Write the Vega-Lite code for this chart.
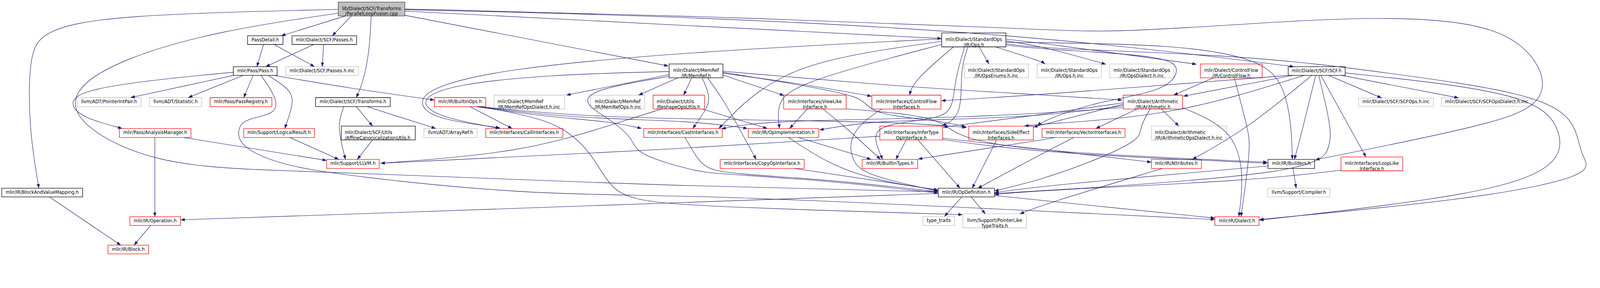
{
  "$schema": "https://vega.github.io/schema/vega-lite/v6.json",
  "width": 4096,
  "height": 655,
  "padding": 0,
  "autosize": {"type": "none"},
  "background": "#ffffff",
  "config": {"view": {"stroke": null}},
  "datasets": {
    "nodes": [
      {"id": "root", "label": "lib/Dialect/SCF/Transforms\n/ParallelLoopFusion.cpp", "kind": "root", "x0": 974, "x1": 1166, "y0": 6, "y1": 46},
      {"id": "PD", "label": "PassDetail.h", "kind": "doc", "x0": 713, "x1": 815, "y0": 103, "y1": 128},
      {"id": "SP", "label": "mlir/Dialect/SCF/Passes.h", "kind": "doc", "x0": 841, "x1": 1027, "y0": 103, "y1": 128},
      {"id": "PP", "label": "mlir/Pass/Pass.h", "kind": "doc", "x0": 672, "x1": 798, "y0": 192, "y1": 217},
      {"id": "PI", "label": "mlir/Dialect/SCF/Passes.h.inc", "kind": "gray", "x0": 823, "x1": 1032, "y0": 192, "y1": 217},
      {"id": "PIP", "label": "llvm/ADT/PointerIntPair.h", "kind": "gray", "x0": 222, "x1": 406, "y0": 281, "y1": 307},
      {"id": "ST", "label": "llvm/ADT/Statistic.h", "kind": "gray", "x0": 430, "x1": 581, "y0": 281, "y1": 307},
      {"id": "PR", "label": "mlir/Pass/PassRegistry.h", "kind": "red", "x0": 605, "x1": 783, "y0": 281, "y1": 307},
      {"id": "TR", "label": "mlir/Dialect/SCF/Transforms.h", "kind": "doc", "x0": 909, "x1": 1124, "y0": 281, "y1": 307},
      {"id": "BO", "label": "mlir/IR/BuiltinOps.h", "kind": "red", "x0": 1251, "x1": 1399, "y0": 281, "y1": 307},
      {"id": "MOD", "label": "mlir/Dialect/MemRef\n/IR/MemRefOpsDialect.h.inc", "kind": "gray", "x0": 1423, "x1": 1626, "y0": 274, "y1": 314},
      {"id": "MO", "label": "mlir/Dialect/MemRef\n/IR/MemRefOps.h.inc", "kind": "gray", "x0": 1701, "x1": 1857, "y0": 274, "y1": 314},
      {"id": "RU", "label": "mlir/Dialect/Utils\n/ReshapeOpsUtils.h", "kind": "red", "x0": 1881, "x1": 2029, "y0": 274, "y1": 314},
      {"id": "MR", "label": "mlir/Dialect/MemRef\n/IR/MemRef.h", "kind": "doc", "x0": 1927, "x1": 2082, "y0": 184, "y1": 224},
      {"id": "OPS", "label": "mlir/Dialect/StandardOps\n/IR/Ops.h", "kind": "doc", "x0": 2712, "x1": 2897, "y0": 95, "y1": 135},
      {"id": "OE", "label": "mlir/Dialect/StandardOps\n/IR/OpsEnums.h.inc", "kind": "gray", "x0": 2777, "x1": 2962, "y0": 184, "y1": 224},
      {"id": "OI", "label": "mlir/Dialect/StandardOps\n/IR/Ops.h.inc", "kind": "gray", "x0": 2987, "x1": 3172, "y0": 184, "y1": 224},
      {"id": "OD", "label": "mlir/Dialect/StandardOps\n/IR/OpsDialect.h.inc", "kind": "gray", "x0": 3196, "x1": 3381, "y0": 184, "y1": 224},
      {"id": "CF", "label": "mlir/Dialect/ControlFlow\n/IR/ControlFlow.h", "kind": "red", "x0": 3457, "x1": 3635, "y0": 184, "y1": 224},
      {"id": "SCF", "label": "mlir/Dialect/SCF/SCF.h", "kind": "doc", "x0": 3710, "x1": 3874, "y0": 192, "y1": 217},
      {"id": "VL", "label": "mlir/Interfaces/ViewLike\nInterface.h", "kind": "red", "x0": 2257, "x1": 2437, "y0": 274, "y1": 314},
      {"id": "CFI", "label": "mlir/Interfaces/ControlFlow\nInterfaces.h", "kind": "red", "x0": 2511, "x1": 2710, "y0": 274, "y1": 314},
      {"id": "AR", "label": "mlir/Dialect/Arithmetic\n/IR/Arithmetic.h", "kind": "red", "x0": 3235, "x1": 3406, "y0": 274, "y1": 314},
      {"id": "SO", "label": "mlir/Dialect/SCF/SCFOps.h.inc", "kind": "gray", "x0": 3913, "x1": 4128, "y0": 282, "y1": 306},
      {"id": "SOD", "label": "mlir/Dialect/SCF/SCFOpsDialect.h.inc", "kind": "gray", "x0": 4151, "x1": 4412, "y0": 282, "y1": 306},
      {"id": "AM", "label": "mlir/Pass/AnalysisManager.h", "kind": "red", "x0": 344, "x1": 550, "y0": 370, "y1": 396},
      {"id": "LR", "label": "mlir/Support/LogicalResult.h", "kind": "red", "x0": 702, "x1": 906, "y0": 370, "y1": 396},
      {"id": "AC", "label": "mlir/Dialect/SCF/Utils\n/AffineCanonicalizationUtils.h", "kind": "doc", "x0": 983, "x1": 1196, "y0": 363, "y1": 403},
      {"id": "AREF", "label": "llvm/ADT/ArrayRef.h", "kind": "gray", "x0": 1221, "x1": 1374, "y0": 370, "y1": 396},
      {"id": "CI", "label": "mlir/Interfaces/CallInterfaces.h", "kind": "red", "x0": 1399, "x1": 1621, "y0": 370, "y1": 396},
      {"id": "CA", "label": "mlir/Interfaces/CastInterfaces.h", "kind": "red", "x0": 1854, "x1": 2080, "y0": 370, "y1": 396},
      {"id": "OIM", "label": "mlir/IR/OpImplementation.h", "kind": "red", "x0": 2155, "x1": 2358, "y0": 370, "y1": 396},
      {"id": "IT", "label": "mlir/Interfaces/InferType\nOpInterface.h", "kind": "red", "x0": 2534, "x1": 2715, "y0": 363, "y1": 403},
      {"id": "SE", "label": "mlir/Interfaces/SideEffect\nInterfaces.h", "kind": "red", "x0": 2790, "x1": 2976, "y0": 363, "y1": 403},
      {"id": "VI", "label": "mlir/Interfaces/VectorInterfaces.h", "kind": "red", "x0": 3001, "x1": 3240, "y0": 370, "y1": 396},
      {"id": "AOD", "label": "mlir/Dialect/Arithmetic\n/IR/ArithmeticOpsDialect.h.inc", "kind": "gray", "x0": 3316, "x1": 3533, "y0": 363, "y1": 403},
      {"id": "LL", "label": "mlir/Support/LLVM.h", "kind": "red", "x0": 941, "x1": 1092, "y0": 459, "y1": 485},
      {"id": "CO", "label": "mlir/Interfaces/CopyOpInterface.h", "kind": "red", "x0": 2074, "x1": 2316, "y0": 459, "y1": 485},
      {"id": "BT", "label": "mlir/IR/BuiltinTypes.h", "kind": "red", "x0": 2483, "x1": 2643, "y0": 459, "y1": 485},
      {"id": "AT", "label": "mlir/IR/Attributes.h", "kind": "red", "x0": 3316, "x1": 3460, "y0": 459, "y1": 485},
      {"id": "BU", "label": "mlir/IR/Builders.h", "kind": "doc", "x0": 3652, "x1": 3786, "y0": 459, "y1": 485},
      {"id": "LLI", "label": "mlir/Interfaces/LoopLike\nInterface.h", "kind": "red", "x0": 3862, "x1": 4040, "y0": 452, "y1": 492},
      {"id": "BVM", "label": "mlir/IR/BlockAndValueMapping.h", "kind": "doc", "x0": 5, "x1": 238, "y0": 542, "y1": 567},
      {"id": "OPD", "label": "mlir/IR/OpDefinition.h", "kind": "doc", "x0": 2702, "x1": 2864, "y0": 542, "y1": 567},
      {"id": "CMP", "label": "llvm/Support/Compiler.h", "kind": "gray", "x0": 3651, "x1": 3830, "y0": 542, "y1": 567},
      {"id": "OP", "label": "mlir/IR/Operation.h", "kind": "red", "x0": 374, "x1": 520, "y0": 624, "y1": 649},
      {"id": "TT", "label": "type_traits", "kind": "gray", "x0": 2658, "x1": 2749, "y0": 623, "y1": 649},
      {"id": "PLT", "label": "llvm/Support/PointerLike\nTypeTraits.h", "kind": "gray", "x0": 2773, "x1": 2956, "y0": 616, "y1": 656},
      {"id": "DI", "label": "mlir/IR/Dialect.h", "kind": "red", "x0": 3499, "x1": 3626, "y0": 624, "y1": 649},
      {"id": "BL", "label": "mlir/IR/Block.h", "kind": "red", "x0": 311, "x1": 428, "y0": 706, "y1": 731}
    ],
    "edges": [
      {"e": 1, "i": 0, "x": 995, "y": 46}, {"e": 1, "i": 1, "x": 810, "y": 103},
      {"e": 2, "i": 0, "x": 1012, "y": 46}, {"e": 2, "i": 1, "x": 957, "y": 103},
      {"e": 3, "i": 0, "x": 1069, "y": 46}, {"e": 3, "i": 1, "x": 1064, "y": 150}, {"e": 3, "i": 2, "x": 1045, "y": 240}, {"e": 3, "i": 3, "x": 1026, "y": 281},
      {"e": 4, "i": 0, "x": 1166, "y": 44}, {"e": 4, "i": 1, "x": 1925, "y": 190},
      {"e": 5, "i": 0, "x": 1166, "y": 32}, {"e": 5, "i": 1, "x": 2712, "y": 111},
      {"e": 6, "i": 0, "x": 1166, "y": 28}, {"e": 6, "i": 1, "x": 2000, "y": 47}, {"e": 6, "i": 2, "x": 3000, "y": 102}, {"e": 6, "i": 3, "x": 3727, "y": 192},
      {"e": 7, "i": 0, "x": 1166, "y": 26}, {"e": 7, "i": 1, "x": 2000, "y": 45}, {"e": 7, "i": 2, "x": 3000, "y": 84}, {"e": 7, "i": 3, "x": 3191, "y": 95}, {"e": 7, "i": 4, "x": 3608, "y": 67}, {"e": 7, "i": 5, "x": 4016, "y": 45}, {"e": 7, "i": 6, "x": 4329, "y": 73}, {"e": 7, "i": 7, "x": 4448, "y": 193}, {"e": 7, "i": 8, "x": 4448, "y": 300}, {"e": 7, "i": 9, "x": 4290, "y": 360}, {"e": 7, "i": 10, "x": 3788, "y": 460},
      {"e": 8, "i": 0, "x": 974, "y": 27}, {"e": 8, "i": 1, "x": 319, "y": 43}, {"e": 8, "i": 2, "x": 128, "y": 87}, {"e": 8, "i": 3, "x": 83, "y": 150}, {"e": 8, "i": 4, "x": 83, "y": 370}, {"e": 8, "i": 5, "x": 112, "y": 542},
      {"e": 9, "i": 0, "x": 974, "y": 38}, {"e": 9, "i": 1, "x": 638, "y": 87}, {"e": 9, "i": 2, "x": 351, "y": 167}, {"e": 9, "i": 3, "x": 191, "y": 267}, {"e": 9, "i": 4, "x": 236, "y": 370}, {"e": 9, "i": 5, "x": 446, "y": 470}, {"e": 9, "i": 6, "x": 733, "y": 490}, {"e": 9, "i": 7, "x": 1000, "y": 497}, {"e": 9, "i": 8, "x": 2000, "y": 538}, {"e": 9, "i": 9, "x": 2702, "y": 552},
      {"e": 10, "i": 0, "x": 759, "y": 128}, {"e": 10, "i": 1, "x": 740, "y": 192},
      {"e": 11, "i": 0, "x": 789, "y": 128}, {"e": 11, "i": 1, "x": 906, "y": 192},
      {"e": 12, "i": 0, "x": 904, "y": 128}, {"e": 12, "i": 1, "x": 765, "y": 192},
      {"e": 13, "i": 0, "x": 932, "y": 128}, {"e": 13, "i": 1, "x": 928, "y": 192},
      {"e": 14, "i": 0, "x": 672, "y": 208}, {"e": 14, "i": 1, "x": 420, "y": 232}, {"e": 14, "i": 2, "x": 230, "y": 262}, {"e": 14, "i": 3, "x": 198, "y": 300}, {"e": 14, "i": 4, "x": 240, "y": 340}, {"e": 14, "i": 5, "x": 352, "y": 370},
      {"e": 15, "i": 0, "x": 673, "y": 217}, {"e": 15, "i": 1, "x": 376, "y": 281},
      {"e": 16, "i": 0, "x": 701, "y": 217}, {"e": 16, "i": 1, "x": 542, "y": 281},
      {"e": 17, "i": 0, "x": 729, "y": 217}, {"e": 17, "i": 1, "x": 702, "y": 281},
      {"e": 18, "i": 0, "x": 752, "y": 217}, {"e": 18, "i": 1, "x": 802, "y": 290}, {"e": 18, "i": 2, "x": 791, "y": 330}, {"e": 18, "i": 3, "x": 701, "y": 343}, {"e": 18, "i": 4, "x": 684, "y": 375}, {"e": 18, "i": 5, "x": 690, "y": 420}, {"e": 18, "i": 6, "x": 797, "y": 473}, {"e": 18, "i": 7, "x": 1000, "y": 507}, {"e": 18, "i": 8, "x": 1548, "y": 563}, {"e": 18, "i": 9, "x": 2000, "y": 560}, {"e": 18, "i": 10, "x": 3000, "y": 608}, {"e": 18, "i": 11, "x": 3499, "y": 632},
      {"e": 19, "i": 0, "x": 772, "y": 217}, {"e": 19, "i": 1, "x": 840, "y": 260}, {"e": 19, "i": 2, "x": 845, "y": 300}, {"e": 19, "i": 3, "x": 820, "y": 370},
      {"e": 20, "i": 0, "x": 789, "y": 217}, {"e": 20, "i": 1, "x": 1000, "y": 253}, {"e": 20, "i": 2, "x": 1251, "y": 288},
      {"e": 21, "i": 0, "x": 1026, "y": 307}, {"e": 21, "i": 1, "x": 1073, "y": 363},
      {"e": 22, "i": 0, "x": 1057, "y": 307}, {"e": 22, "i": 1, "x": 1255, "y": 370},
      {"e": 23, "i": 0, "x": 990, "y": 307}, {"e": 23, "i": 1, "x": 972, "y": 360}, {"e": 23, "i": 2, "x": 985, "y": 420}, {"e": 23, "i": 3, "x": 995, "y": 459},
      {"e": 24, "i": 0, "x": 835, "y": 396}, {"e": 24, "i": 1, "x": 976, "y": 459},
      {"e": 25, "i": 0, "x": 529, "y": 396}, {"e": 25, "i": 1, "x": 941, "y": 462},
      {"e": 26, "i": 0, "x": 446, "y": 396}, {"e": 26, "i": 1, "x": 446, "y": 624},
      {"e": 27, "i": 0, "x": 1073, "y": 403}, {"e": 27, "i": 1, "x": 1029, "y": 459},
      {"e": 28, "i": 0, "x": 434, "y": 649}, {"e": 28, "i": 1, "x": 386, "y": 706},
      {"e": 29, "i": 0, "x": 142, "y": 567}, {"e": 29, "i": 1, "x": 348, "y": 706},
      {"e": 30, "i": 0, "x": 2702, "y": 557}, {"e": 30, "i": 1, "x": 2000, "y": 582}, {"e": 30, "i": 2, "x": 1000, "y": 617}, {"e": 30, "i": 3, "x": 520, "y": 633},
      {"e": 31, "i": 0, "x": 1353, "y": 307}, {"e": 31, "i": 1, "x": 1475, "y": 370},
      {"e": 32, "i": 0, "x": 1372, "y": 307}, {"e": 32, "i": 1, "x": 1560, "y": 335}, {"e": 32, "i": 2, "x": 1760, "y": 350}, {"e": 32, "i": 3, "x": 1848, "y": 370},
      {"e": 33, "i": 0, "x": 1378, "y": 307}, {"e": 33, "i": 1, "x": 1700, "y": 338}, {"e": 33, "i": 2, "x": 2200, "y": 346}, {"e": 33, "i": 3, "x": 2600, "y": 352}, {"e": 33, "i": 4, "x": 2784, "y": 367},
      {"e": 34, "i": 0, "x": 1385, "y": 307}, {"e": 34, "i": 1, "x": 1560, "y": 340}, {"e": 34, "i": 2, "x": 1640, "y": 380}, {"e": 34, "i": 3, "x": 1702, "y": 440}, {"e": 34, "i": 4, "x": 1753, "y": 533}, {"e": 34, "i": 5, "x": 1810, "y": 575}, {"e": 34, "i": 6, "x": 2000, "y": 595}, {"e": 34, "i": 7, "x": 2772, "y": 618},
      {"e": 35, "i": 0, "x": 1375, "y": 307}, {"e": 35, "i": 1, "x": 1640, "y": 340}, {"e": 35, "i": 2, "x": 2000, "y": 348}, {"e": 35, "i": 3, "x": 2153, "y": 370},
      {"e": 36, "i": 0, "x": 1927, "y": 215}, {"e": 36, "i": 1, "x": 1631, "y": 274},
      {"e": 37, "i": 0, "x": 1953, "y": 224}, {"e": 37, "i": 1, "x": 1839, "y": 274},
      {"e": 38, "i": 0, "x": 1992, "y": 224}, {"e": 38, "i": 1, "x": 1969, "y": 274},
      {"e": 39, "i": 0, "x": 1927, "y": 206}, {"e": 39, "i": 1, "x": 1574, "y": 215}, {"e": 39, "i": 2, "x": 1300, "y": 245}, {"e": 39, "i": 3, "x": 1222, "y": 280}, {"e": 39, "i": 4, "x": 1225, "y": 310}, {"e": 39, "i": 5, "x": 1280, "y": 340}, {"e": 39, "i": 6, "x": 1440, "y": 370},
      {"e": 40, "i": 0, "x": 2712, "y": 112}, {"e": 40, "i": 1, "x": 2000, "y": 148}, {"e": 40, "i": 2, "x": 1446, "y": 198}, {"e": 40, "i": 3, "x": 1250, "y": 250}, {"e": 40, "i": 4, "x": 1212, "y": 285}, {"e": 40, "i": 5, "x": 1218, "y": 315}, {"e": 40, "i": 6, "x": 1270, "y": 345}, {"e": 40, "i": 7, "x": 1440, "y": 368},
      {"e": 41, "i": 0, "x": 2022, "y": 224}, {"e": 41, "i": 1, "x": 2051, "y": 287}, {"e": 41, "i": 2, "x": 2020, "y": 335}, {"e": 41, "i": 3, "x": 1995, "y": 370},
      {"e": 42, "i": 0, "x": 1927, "y": 220}, {"e": 42, "i": 1, "x": 1700, "y": 258}, {"e": 42, "i": 2, "x": 1680, "y": 300}, {"e": 42, "i": 3, "x": 1760, "y": 345}, {"e": 42, "i": 4, "x": 1825, "y": 400}, {"e": 42, "i": 5, "x": 1829, "y": 443}, {"e": 42, "i": 6, "x": 2000, "y": 493}, {"e": 42, "i": 7, "x": 2064, "y": 500}, {"e": 42, "i": 8, "x": 2383, "y": 520}, {"e": 42, "i": 9, "x": 2702, "y": 556},
      {"e": 43, "i": 0, "x": 2038, "y": 224}, {"e": 43, "i": 1, "x": 2085, "y": 290}, {"e": 43, "i": 2, "x": 2128, "y": 368}, {"e": 43, "i": 3, "x": 2178, "y": 459},
      {"e": 44, "i": 0, "x": 2082, "y": 216}, {"e": 44, "i": 1, "x": 2258, "y": 275},
      {"e": 45, "i": 0, "x": 2082, "y": 211}, {"e": 45, "i": 1, "x": 2300, "y": 240}, {"e": 45, "i": 2, "x": 2510, "y": 277},
      {"e": 46, "i": 0, "x": 2082, "y": 208}, {"e": 46, "i": 1, "x": 2446, "y": 268}, {"e": 46, "i": 2, "x": 2491, "y": 293}, {"e": 46, "i": 3, "x": 2520, "y": 330}, {"e": 46, "i": 4, "x": 2701, "y": 347}, {"e": 46, "i": 5, "x": 2782, "y": 365},
      {"e": 47, "i": 0, "x": 2082, "y": 205}, {"e": 47, "i": 1, "x": 2600, "y": 250}, {"e": 47, "i": 2, "x": 3000, "y": 273}, {"e": 47, "i": 3, "x": 3232, "y": 288},
      {"e": 48, "i": 0, "x": 2022, "y": 314}, {"e": 48, "i": 1, "x": 2210, "y": 370},
      {"e": 49, "i": 0, "x": 1905, "y": 314}, {"e": 49, "i": 1, "x": 1760, "y": 360}, {"e": 49, "i": 2, "x": 1500, "y": 440}, {"e": 49, "i": 3, "x": 1096, "y": 470},
      {"e": 50, "i": 0, "x": 2712, "y": 119}, {"e": 50, "i": 1, "x": 2332, "y": 173}, {"e": 50, "i": 2, "x": 2172, "y": 267}, {"e": 50, "i": 3, "x": 2100, "y": 340}, {"e": 50, "i": 4, "x": 2070, "y": 370},
      {"e": 51, "i": 0, "x": 2712, "y": 128}, {"e": 51, "i": 1, "x": 2287, "y": 240}, {"e": 51, "i": 2, "x": 2236, "y": 300}, {"e": 51, "i": 3, "x": 2245, "y": 370},
      {"e": 52, "i": 0, "x": 2746, "y": 135}, {"e": 52, "i": 1, "x": 2631, "y": 233}, {"e": 52, "i": 2, "x": 2619, "y": 274},
      {"e": 53, "i": 0, "x": 2778, "y": 135}, {"e": 53, "i": 1, "x": 2747, "y": 240}, {"e": 53, "i": 2, "x": 2745, "y": 330}, {"e": 53, "i": 3, "x": 2660, "y": 345}, {"e": 53, "i": 4, "x": 2540, "y": 360}, {"e": 53, "i": 5, "x": 2513, "y": 393}, {"e": 53, "i": 6, "x": 2542, "y": 459},
      {"e": 54, "i": 0, "x": 2788, "y": 135}, {"e": 54, "i": 1, "x": 2765, "y": 200}, {"e": 54, "i": 2, "x": 2772, "y": 333}, {"e": 54, "i": 3, "x": 2713, "y": 363},
      {"e": 55, "i": 0, "x": 2820, "y": 135}, {"e": 55, "i": 1, "x": 2848, "y": 184},
      {"e": 56, "i": 0, "x": 2867, "y": 135}, {"e": 56, "i": 1, "x": 3000, "y": 177}, {"e": 56, "i": 2, "x": 3010, "y": 184},
      {"e": 57, "i": 0, "x": 2897, "y": 113}, {"e": 57, "i": 1, "x": 3000, "y": 124}, {"e": 57, "i": 2, "x": 3446, "y": 185},
      {"e": 58, "i": 0, "x": 2897, "y": 118}, {"e": 58, "i": 1, "x": 3000, "y": 133}, {"e": 58, "i": 2, "x": 3185, "y": 185},
      {"e": 59, "i": 0, "x": 2897, "y": 126}, {"e": 59, "i": 1, "x": 3000, "y": 140}, {"e": 59, "i": 2, "x": 3608, "y": 160}, {"e": 59, "i": 3, "x": 4000, "y": 210}, {"e": 59, "i": 4, "x": 4405, "y": 267}, {"e": 59, "i": 5, "x": 4540, "y": 340}, {"e": 59, "i": 6, "x": 4549, "y": 450}, {"e": 59, "i": 7, "x": 4600, "y": 500}, {"e": 59, "i": 8, "x": 4284, "y": 570}, {"e": 59, "i": 9, "x": 3627, "y": 632},
      {"e": 60, "i": 0, "x": 2897, "y": 130}, {"e": 60, "i": 1, "x": 3000, "y": 142}, {"e": 60, "i": 2, "x": 3363, "y": 160}, {"e": 60, "i": 3, "x": 3402, "y": 200}, {"e": 60, "i": 4, "x": 3357, "y": 263}, {"e": 60, "i": 5, "x": 3153, "y": 293}, {"e": 60, "i": 6, "x": 3000, "y": 350}, {"e": 60, "i": 7, "x": 2988, "y": 363},
      {"e": 61, "i": 0, "x": 2897, "y": 122}, {"e": 61, "i": 1, "x": 3400, "y": 127}, {"e": 61, "i": 2, "x": 3638, "y": 173}, {"e": 61, "i": 3, "x": 3701, "y": 250}, {"e": 61, "i": 4, "x": 3720, "y": 370}, {"e": 61, "i": 5, "x": 3722, "y": 459},
      {"e": 62, "i": 0, "x": 2539, "y": 314}, {"e": 62, "i": 1, "x": 2485, "y": 350}, {"e": 62, "i": 2, "x": 2446, "y": 400}, {"e": 62, "i": 3, "x": 2453, "y": 460}, {"e": 62, "i": 4, "x": 2485, "y": 500}, {"e": 62, "i": 5, "x": 2638, "y": 537}, {"e": 62, "i": 6, "x": 2702, "y": 550},
      {"e": 63, "i": 0, "x": 2325, "y": 314}, {"e": 63, "i": 1, "x": 2274, "y": 370},
      {"e": 64, "i": 0, "x": 2370, "y": 314}, {"e": 64, "i": 1, "x": 2440, "y": 370}, {"e": 64, "i": 2, "x": 2536, "y": 459},
      {"e": 65, "i": 0, "x": 2437, "y": 313}, {"e": 65, "i": 1, "x": 2638, "y": 330}, {"e": 65, "i": 2, "x": 2720, "y": 353}, {"e": 65, "i": 3, "x": 2765, "y": 400}, {"e": 65, "i": 4, "x": 3000, "y": 438}, {"e": 65, "i": 5, "x": 3650, "y": 467},
      {"e": 66, "i": 0, "x": 2271, "y": 396}, {"e": 66, "i": 1, "x": 2383, "y": 470}, {"e": 66, "i": 2, "x": 2510, "y": 517}, {"e": 66, "i": 3, "x": 2702, "y": 548},
      {"e": 67, "i": 0, "x": 2300, "y": 396}, {"e": 67, "i": 1, "x": 2509, "y": 459},
      {"e": 68, "i": 0, "x": 2287, "y": 485}, {"e": 68, "i": 1, "x": 2702, "y": 547},
      {"e": 69, "i": 0, "x": 2610, "y": 403}, {"e": 69, "i": 1, "x": 2580, "y": 459},
      {"e": 70, "i": 0, "x": 2644, "y": 403}, {"e": 70, "i": 1, "x": 2765, "y": 542},
      {"e": 71, "i": 0, "x": 2534, "y": 392}, {"e": 71, "i": 1, "x": 2000, "y": 427}, {"e": 71, "i": 2, "x": 1096, "y": 470},
      {"e": 72, "i": 0, "x": 2715, "y": 398}, {"e": 72, "i": 1, "x": 3000, "y": 430}, {"e": 72, "i": 2, "x": 3316, "y": 467},
      {"e": 73, "i": 0, "x": 2715, "y": 402}, {"e": 73, "i": 1, "x": 3000, "y": 441}, {"e": 73, "i": 2, "x": 3650, "y": 470},
      {"e": 74, "i": 0, "x": 2870, "y": 403}, {"e": 74, "i": 1, "x": 2800, "y": 542},
      {"e": 75, "i": 0, "x": 3092, "y": 396}, {"e": 75, "i": 1, "x": 3000, "y": 443}, {"e": 75, "i": 2, "x": 2816, "y": 542},
      {"e": 76, "i": 0, "x": 3038, "y": 396}, {"e": 76, "i": 1, "x": 3000, "y": 403}, {"e": 76, "i": 2, "x": 2644, "y": 458},
      {"e": 77, "i": 0, "x": 3275, "y": 314}, {"e": 77, "i": 1, "x": 3156, "y": 370},
      {"e": 78, "i": 0, "x": 3345, "y": 314}, {"e": 78, "i": 1, "x": 3395, "y": 363},
      {"e": 79, "i": 0, "x": 3406, "y": 310}, {"e": 79, "i": 1, "x": 3548, "y": 370}, {"e": 79, "i": 2, "x": 3584, "y": 493}, {"e": 79, "i": 3, "x": 3568, "y": 624},
      {"e": 80, "i": 0, "x": 3235, "y": 296}, {"e": 80, "i": 1, "x": 3000, "y": 330}, {"e": 80, "i": 2, "x": 2716, "y": 366},
      {"e": 81, "i": 0, "x": 3235, "y": 300}, {"e": 81, "i": 1, "x": 2976, "y": 366},
      {"e": 82, "i": 0, "x": 3235, "y": 305}, {"e": 82, "i": 1, "x": 3000, "y": 335}, {"e": 82, "i": 2, "x": 2700, "y": 345}, {"e": 82, "i": 3, "x": 2500, "y": 350}, {"e": 82, "i": 4, "x": 2360, "y": 374},
      {"e": 83, "i": 0, "x": 3235, "y": 310}, {"e": 83, "i": 1, "x": 2800, "y": 340}, {"e": 83, "i": 2, "x": 2200, "y": 347}, {"e": 83, "i": 3, "x": 2078, "y": 371},
      {"e": 85, "i": 0, "x": 3312, "y": 314}, {"e": 85, "i": 1, "x": 3281, "y": 370}, {"e": 85, "i": 2, "x": 3287, "y": 400}, {"e": 85, "i": 3, "x": 3160, "y": 460}, {"e": 85, "i": 4, "x": 3000, "y": 517}, {"e": 85, "i": 5, "x": 2864, "y": 550},
      {"e": 86, "i": 0, "x": 3495, "y": 224}, {"e": 86, "i": 1, "x": 3380, "y": 274},
      {"e": 87, "i": 0, "x": 3555, "y": 224}, {"e": 87, "i": 1, "x": 3593, "y": 370}, {"e": 87, "i": 2, "x": 3603, "y": 420}, {"e": 87, "i": 3, "x": 3574, "y": 624},
      {"e": 88, "i": 0, "x": 3712, "y": 217}, {"e": 88, "i": 1, "x": 3000, "y": 273}, {"e": 88, "i": 2, "x": 2711, "y": 290},
      {"e": 89, "i": 0, "x": 3724, "y": 217}, {"e": 89, "i": 1, "x": 3408, "y": 277},
      {"e": 90, "i": 0, "x": 3756, "y": 217}, {"e": 90, "i": 1, "x": 3383, "y": 333}, {"e": 90, "i": 2, "x": 3000, "y": 357}, {"e": 90, "i": 3, "x": 2950, "y": 363},
      {"e": 91, "i": 0, "x": 3778, "y": 217}, {"e": 91, "i": 1, "x": 3593, "y": 370}, {"e": 91, "i": 2, "x": 3434, "y": 459},
      {"e": 92, "i": 0, "x": 3789, "y": 217}, {"e": 92, "i": 1, "x": 3752, "y": 370}, {"e": 92, "i": 2, "x": 3728, "y": 459},
      {"e": 93, "i": 0, "x": 3798, "y": 217}, {"e": 93, "i": 1, "x": 3835, "y": 370}, {"e": 93, "i": 2, "x": 3830, "y": 420}, {"e": 93, "i": 3, "x": 3797, "y": 497}, {"e": 93, "i": 4, "x": 3000, "y": 550}, {"e": 93, "i": 5, "x": 2864, "y": 557},
      {"e": 94, "i": 0, "x": 3804, "y": 217}, {"e": 94, "i": 1, "x": 3934, "y": 452},
      {"e": 95, "i": 0, "x": 3826, "y": 217}, {"e": 95, "i": 1, "x": 3979, "y": 282},
      {"e": 96, "i": 0, "x": 3864, "y": 217}, {"e": 96, "i": 1, "x": 4201, "y": 282},
      {"e": 97, "i": 0, "x": 3874, "y": 210}, {"e": 97, "i": 1, "x": 4411, "y": 267}, {"e": 97, "i": 2, "x": 4498, "y": 370}, {"e": 97, "i": 3, "x": 4498, "y": 477}, {"e": 97, "i": 4, "x": 4278, "y": 560}, {"e": 97, "i": 5, "x": 3627, "y": 634},
      {"e": 98, "i": 0, "x": 3862, "y": 490}, {"e": 98, "i": 1, "x": 3608, "y": 520}, {"e": 98, "i": 2, "x": 3000, "y": 548}, {"e": 98, "i": 3, "x": 2864, "y": 560},
      {"e": 99, "i": 0, "x": 3652, "y": 478}, {"e": 99, "i": 1, "x": 3000, "y": 535}, {"e": 99, "i": 2, "x": 2864, "y": 555},
      {"e": 100, "i": 0, "x": 3724, "y": 485}, {"e": 100, "i": 1, "x": 3733, "y": 542},
      {"e": 101, "i": 0, "x": 3348, "y": 485}, {"e": 101, "i": 1, "x": 3000, "y": 590}, {"e": 101, "i": 2, "x": 2937, "y": 616},
      {"e": 102, "i": 0, "x": 2770, "y": 567}, {"e": 102, "i": 1, "x": 2720, "y": 623},
      {"e": 103, "i": 0, "x": 2797, "y": 567}, {"e": 103, "i": 1, "x": 2838, "y": 616},
      {"e": 104, "i": 0, "x": 2864, "y": 563}, {"e": 104, "i": 1, "x": 3000, "y": 577}, {"e": 104, "i": 2, "x": 3499, "y": 628},
      {"e": 105, "i": 0, "x": 1973, "y": 396}, {"e": 105, "i": 1, "x": 2000, "y": 443}, {"e": 105, "i": 2, "x": 2030, "y": 485}, {"e": 105, "i": 3, "x": 2100, "y": 500}, {"e": 105, "i": 4, "x": 2383, "y": 517}, {"e": 105, "i": 5, "x": 2702, "y": 552}
    ]
  },
  "layer": [
    {
      "data": {"name": "nodes"},
      "mark": {"type": "rect", "strokeWidth": 1.3},
      "encoding": {
        "x": {"field": "x0", "type": "quantitative", "scale": {"domain": [0, 4608], "nice": false, "zero": false}, "axis": null},
        "x2": {"field": "x1"},
        "y": {"field": "y0", "type": "quantitative", "scale": {"domain": [0, 737], "nice": false, "zero": false, "reverse": true}, "axis": null},
        "y2": {"field": "y1"},
        "fill": {"field": "kind", "type": "nominal", "scale": {"domain": ["root", "doc", "red", "gray"], "range": ["#bfbfbf", "#ffffff", "#ffffff", "#ffffff"]}, "legend": null},
        "stroke": {"field": "kind", "type": "nominal", "scale": {"domain": ["root", "doc", "red", "gray"], "range": ["#404040", "#000000", "#ff0000", "#bfbfbf"]}, "legend": null}
      }
    },
    {
      "data": {"name": "edges"},
      "mark": {"type": "line", "interpolate": "basis", "color": "#191970", "strokeWidth": 1.1},
      "encoding": {
        "x": {"field": "x", "type": "quantitative"},
        "y": {"field": "y", "type": "quantitative"},
        "detail": {"field": "e", "type": "nominal"},
        "order": {"field": "i", "type": "quantitative"}
      }
    },
    {
      "data": {"name": "edges"},
      "transform": [
        {"window": [
          {"op": "lag", "field": "x", "as": "px"},
          {"op": "lag", "field": "y", "as": "py"},
          {"op": "lead", "field": "i", "as": "ni"}
        ], "groupby": ["e"], "sort": [{"field": "i", "order": "ascending"}]},
        {"filter": "datum.ni == null"},
        {"calculate": "atan2(datum.x - datum.px, datum.py - datum.y) * 180 / PI", "as": "ang"}
      ],
      "mark": {"type": "point", "shape": "M0,0L-0.75,2L0.75,2Z", "filled": true, "size": 114, "color": "#191970", "opacity": 1},
      "encoding": {
        "x": {"field": "x", "type": "quantitative"},
        "y": {"field": "y", "type": "quantitative"},
        "angle": {"field": "ang", "type": "quantitative", "scale": null}
      }
    },
    {
      "data": {"name": "nodes"},
      "transform": [
        {"filter": "indexof(['MOD', 'RU', 'AC', 'AOD'], datum.id) < 0"},
        {"calculate": "(datum.x0 + datum.x1) / 2", "as": "cx"},
        {"calculate": "(datum.y0 + datum.y1) / 2", "as": "cy"}
      ],
      "mark": {"type": "text", "font": "DejaVu Sans", "fontSize": 11.5, "lineBreak": "\n", "lineHeight": 13.3, "baseline": "middle", "align": "center", "color": "#000000"},
      "encoding": {
        "x": {"field": "cx", "type": "quantitative"},
        "y": {"field": "cy", "type": "quantitative"},
        "text": {"field": "label", "type": "nominal"}
      }
    },
    {
      "data": {"name": "nodes"},
      "transform": [
        {"filter": "indexof(['MOD', 'RU', 'AC', 'AOD'], datum.id) >= 0"},
        {"calculate": "datum.x0 + 10", "as": "lx"},
        {"calculate": "(datum.y0 + datum.y1) / 2", "as": "cy"}
      ],
      "mark": {"type": "text", "font": "DejaVu Sans", "fontSize": 11.5, "lineBreak": "\n", "lineHeight": 13.3, "baseline": "middle", "align": "left", "color": "#000000"},
      "encoding": {
        "x": {"field": "lx", "type": "quantitative"},
        "y": {"field": "cy", "type": "quantitative"},
        "text": {"field": "label", "type": "nominal"}
      }
    }
  ]
}
